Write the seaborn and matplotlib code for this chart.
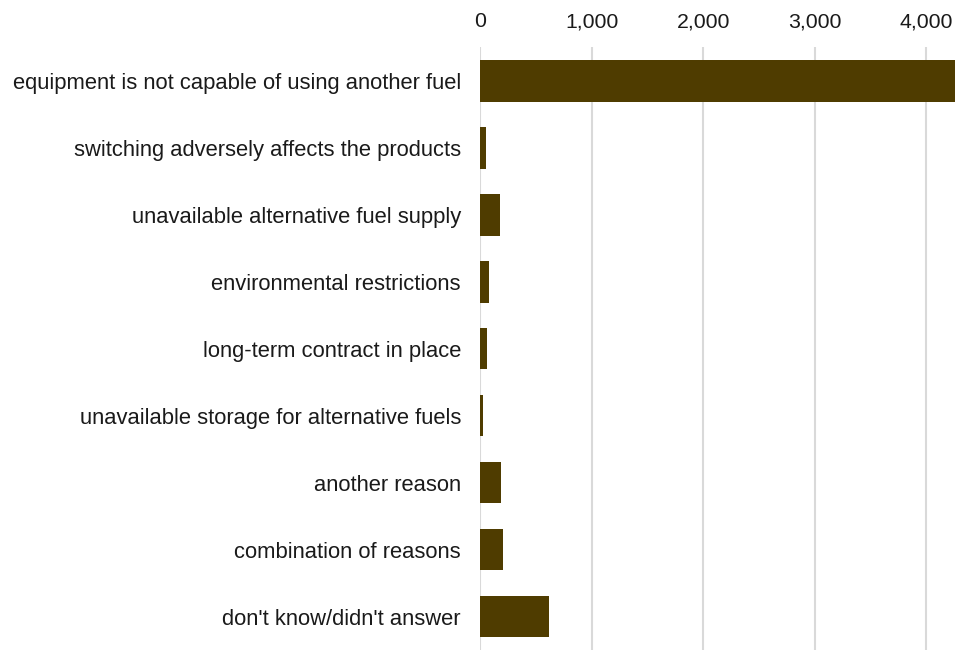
import pandas as pd
import seaborn as sns
import matplotlib.pyplot as plt

# Reasons and counts
reasons = [
    "equipment is not capable of using another fuel",
    "switching adversely affects the products",
    "unavailable alternative fuel supply",
    "environmental restrictions",
    "long-term contract in place",
    "unavailable storage for alternative fuels",
    "another reason",
    "combination of reasons",
    "don't know/didn't answer",
]
counts = [4400, 50, 180, 80, 60, 25, 187, 200, 617]
ticks = [0, 1000, 2000, 3000, 4000]

df = pd.DataFrame({"Reason": reasons, "Count": counts})

sns.set_style("white")
plt.rcParams["font.family"] = ["Liberation Sans", "DejaVu Sans"]

fig = plt.figure(figsize=(9.55, 6.5), dpi=100)
ax = fig.add_axes([0.503, 0.0, 0.497, 0.927])

sns.barplot(data=df, x="Count", y="Reason", order=reasons, color="#4f3c00",
            saturation=1, width=0.62, edgecolor="none", ax=ax, zorder=2)

ax.set_xlim(0, 4260)
ax.set_ylim(8.5, -0.5)
ax.set_xticks(ticks)
ax.set_xticklabels([f"{t:,}" for t in ticks])
ax.xaxis.tick_top()
ax.grid(axis="x", color="#d9d9d9", linewidth=1.5, zorder=0)
ax.set_axisbelow(True)
ax.tick_params(axis="x", length=0, pad=11.5, labelsize=15.3, colors="#1a1a1a")
ax.tick_params(axis="y", length=0, pad=14, labelsize=15.8, colors="#1a1a1a")
ax.set_xlabel("")
ax.set_ylabel("")
for s in ax.spines.values():
    s.set_visible(False)

fig.savefig("out.png", dpi=100)
